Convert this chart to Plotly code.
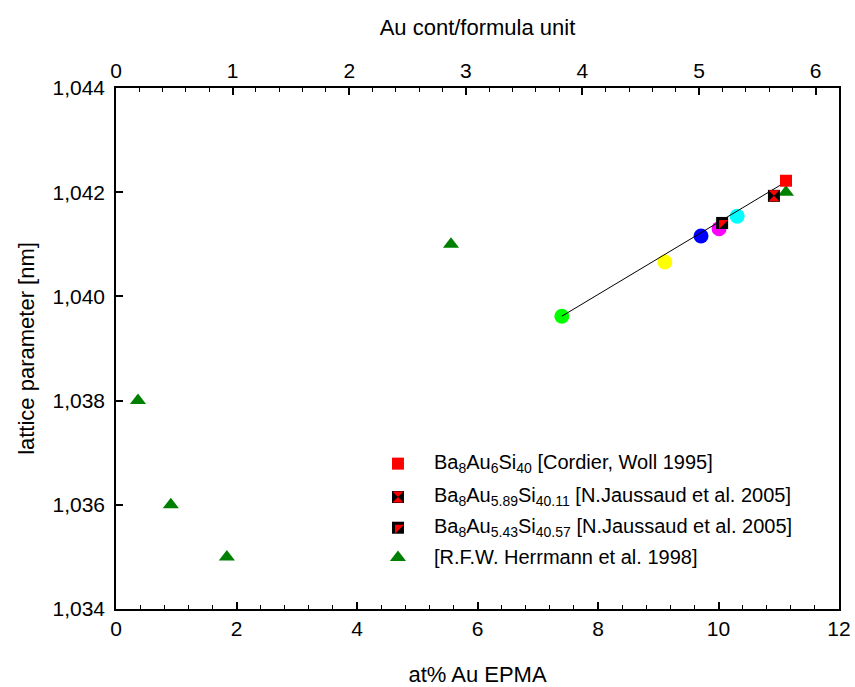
import plotly.graph_objects as go

# ---- data ----
herrmann_x = [0.365, 0.91, 1.84, 5.56, 11.12]
herrmann_y = [1.0380, 1.0360, 1.0350, 1.0410, 1.0420]

cordier_x = [11.12]
cordier_y = [1.04222]

jaus589_x = [10.92]
jaus589_y = [1.04193]

jaus543_x = [10.06]
jaus543_y = [1.04141]

circle_x = [7.40, 9.11, 9.71, 10.01, 10.31]
circle_y = [1.03962, 1.04066, 1.04116, 1.04130, 1.04154]
circle_colors = ["#00ff00", "#ffff00", "#0000ff", "#ff00ff", "#00ffff"]

fit_x = [7.40, 11.12]
fit_y = [1.03962, 1.04220]

legend_labels = [
    "Ba<sub>8</sub>Au<sub>6</sub>Si<sub>40</sub> [Cordier, Woll 1995]",
    "Ba<sub>8</sub>Au<sub>5.89</sub>Si<sub>40.11</sub> [N.Jaussaud et al. 2005]",
    "Ba<sub>8</sub>Au<sub>5.43</sub>Si<sub>40.57</sub> [N.Jaussaud et al. 2005]",
    "[R.F.W. Herrmann et al. 1998]",
]

FONT = "Liberation Sans, Arial, sans-serif"
NOLINE = dict(width=0)


def mk(symbol, size, color):
    return dict(symbol=symbol, size=size, color=color, opacity=1, line=NOLINE)


fig = go.Figure()

fig.add_trace(go.Scatter(x=circle_x, y=circle_y, mode="markers",
                         marker=mk("circle", 15, circle_colors), showlegend=False))
fig.add_trace(go.Scatter(x=fit_x, y=fit_y, mode="lines",
                         line=dict(color="black", width=1), showlegend=False))
fig.add_trace(go.Scatter(x=herrmann_x, y=herrmann_y, mode="markers",
                         marker=mk("triangle-up", 14, "#008000"), showlegend=False))
fig.add_trace(go.Scatter(x=jaus543_x, y=jaus543_y, mode="markers",
                         marker=mk("square", 12, "black"), showlegend=False))
fig.add_trace(go.Scatter(x=jaus543_x, y=jaus543_y, mode="markers",
                         marker=mk("triangle-nw", 10, "red"), showlegend=False))
fig.add_trace(go.Scatter(x=jaus589_x, y=jaus589_y, mode="markers",
                         marker=mk("square", 12, "black"), showlegend=False))
fig.add_trace(go.Scatter(x=jaus589_x, y=jaus589_y, mode="markers",
                         marker=mk("hourglass", 11, "red"), showlegend=False))
fig.add_trace(go.Scatter(x=cordier_x, y=cordier_y, mode="markers",
                         marker=mk("square", 12, "red"), showlegend=False))

# top axis carrier trace (invisible)
fig.add_trace(go.Scatter(x=[0, 6.2], y=[1.034, 1.034], xaxis="x2", mode="markers",
                         marker=dict(opacity=0), showlegend=False, hoverinfo="skip"))

# ---- manual legend (overlay axes spanning the plot area) ----
leg_y = [0.279, 0.215, 0.156, 0.099]
leg_mx = 0.390
fig.add_trace(go.Scatter(x=[leg_mx] * 4, y=leg_y, xaxis="x3", yaxis="y3", mode="markers",
                         marker=mk(["square", "square", "square", "triangle-up"],
                                   [12, 12, 12, 14],
                                   ["#ff0000", "#000000", "#000000", "#008000"]),
                         showlegend=False, hoverinfo="skip"))
fig.add_trace(go.Scatter(x=[leg_mx, leg_mx], y=[leg_y[1], leg_y[2]], xaxis="x3", yaxis="y3",
                         mode="markers",
                         marker=mk(["hourglass", "triangle-nw"], [11, 10], "#ff0000"),
                         showlegend=False, hoverinfo="skip"))
for lab, yy in zip(legend_labels, leg_y):
    fig.add_annotation(x=0.437, y=yy, xref="x3", yref="y3", text=lab, showarrow=False,
                       xanchor="left", yanchor="middle",
                       font=dict(family=FONT, size=20, color="black"))

fig.update_layout(
    width=855, height=687, autosize=False,
    margin=dict(l=116, r=16, t=88, b=78, autoexpand=False),
    paper_bgcolor="white", plot_bgcolor="white",
    separators=", ",
    font=dict(family=FONT, size=21, color="black"),
    xaxis=dict(range=[0, 12], dtick=2, tick0=0, ticks="inside", ticklen=7, tickwidth=1.5,
               tickcolor="black", showline=True, linecolor="black", linewidth=1.5,
               showgrid=False, zeroline=False, mirror=False, automargin=False,
               minor=dict(dtick=0.4, ticks="inside", ticklen=4, tickcolor="black", tickwidth=1.2),
               title=dict(text="at% Au EPMA", font=dict(size=22), standoff=28),
               tickfont=dict(size=21)),
    xaxis2=dict(range=[0, 6.2], dtick=1, tick0=0, overlaying="x", side="top", anchor="y",
                ticks="inside", ticklen=7, tickwidth=1.5, tickcolor="black", automargin=False,
                showline=True, linecolor="black", linewidth=1.5, showgrid=False, zeroline=False,
                minor=dict(dtick=0.2, ticks="inside", ticklen=4, tickcolor="black", tickwidth=1.2),
                title=dict(text="Au cont/formula unit", font=dict(size=22), standoff=17),
                tickfont=dict(size=21)),
    yaxis=dict(range=[1.034, 1.044], dtick=0.002, tick0=1.034, tickformat=".3f",
               ticks="inside", ticklen=7, tickwidth=1.5, tickcolor="black",
               showline=True, linecolor="black", linewidth=1.5, mirror=True,
               showgrid=False, zeroline=False, automargin=False, ticklabelstandoff=5,
               title=dict(text="lattice parameter [nm]", font=dict(size=22), standoff=12),
               tickfont=dict(size=21)),
    xaxis3=dict(range=[0, 1], domain=[0, 1], anchor="y3", overlaying="x", visible=False,
                fixedrange=True, automargin=False),
    yaxis3=dict(range=[0, 1], domain=[0, 1], anchor="x3", overlaying="y", visible=False,
                fixedrange=True, automargin=False),
)

fig.write_html("out.html")
